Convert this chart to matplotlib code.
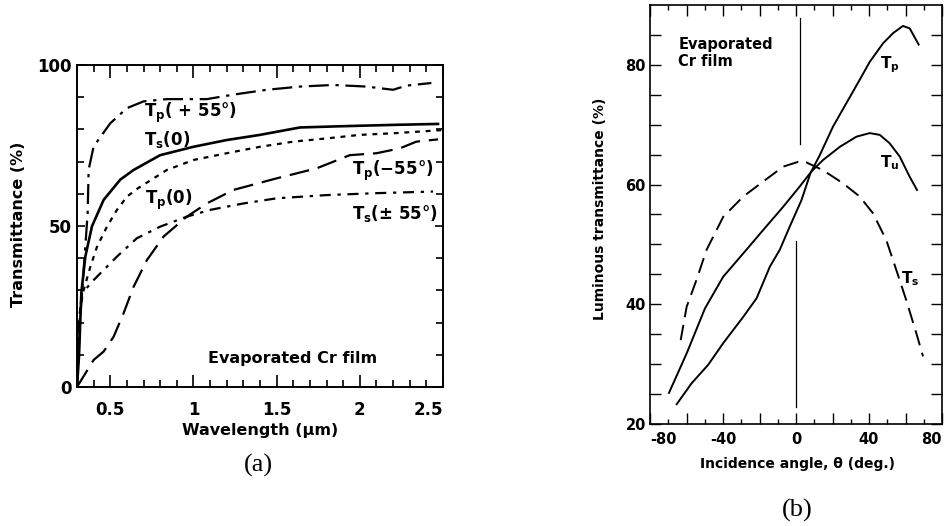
import matplotlib
matplotlib.use("Agg")
import matplotlib.pyplot as plt
from matplotlib.ticker import MultipleLocator, FixedLocator

plt.rcParams['font.family'] = ['DejaVu Sans']
plt.rcParams['font.weight'] = 'bold'
plt.rcParams['mathtext.default'] = 'bf'
plt.rcParams['axes.unicode_minus'] = False

# ---------------- panel (a) data ----------------
tp55_x = [0.30, 0.32, 0.35, 0.364, 0.37, 0.40, 0.50, 0.60, 0.70, 0.84, 1.08, 1.24, 1.44, 1.64, 1.84, 2.04, 2.20, 2.28, 2.43]
tp55_y = [0.0, 21.9, 43.6, 54.0, 67.5, 74.7, 81.9, 86.6, 88.7, 89.4, 89.4, 90.8, 92.3, 93.3, 93.8, 93.3, 92.3, 93.6, 94.4]

ts0_x = [0.30, 0.312, 0.326, 0.35, 0.39, 0.46, 0.56, 0.64, 0.80, 1.00, 1.20, 1.40, 1.64, 1.90, 2.20, 2.47]
ts0_y = [0.2, 9.5, 29.2, 40.5, 49.9, 58.1, 64.4, 67.4, 72.0, 74.6, 76.7, 78.3, 80.6, 81.0, 81.4, 81.7]

tp0_x = [0.30, 0.31, 0.32, 0.34, 0.38, 0.42, 0.48, 0.54, 0.60, 0.66, 0.84, 1.00, 1.20, 1.40, 1.60, 1.80, 2.00, 2.20, 2.50]
tp0_y = [0.0, 12.0, 24.9, 30.1, 37.3, 43.5, 49.8, 55.0, 59.1, 61.5, 67.4, 70.5, 72.6, 74.6, 76.2, 77.2, 78.3, 78.8, 79.8]

tpm55_x = [0.30, 0.40, 0.46, 0.52, 0.58, 0.64, 0.72, 0.82, 0.96, 1.08, 1.24, 1.50, 1.74, 1.94, 2.10, 2.24, 2.34, 2.47]
tpm55_y = [0.0, 8.4, 11.0, 15.6, 22.9, 31.1, 39.4, 46.7, 52.9, 57.0, 61.2, 64.8, 67.9, 72.0, 72.6, 74.1, 76.2, 76.9]

ts55_x = [0.30, 0.31, 0.33, 0.40, 0.54, 0.66, 0.80, 0.96, 1.10, 1.30, 1.50, 1.80, 2.10, 2.44]
ts55_y = [0.0, 20.0, 29.1, 33.2, 40.5, 46.2, 49.8, 52.9, 55.0, 57.0, 58.6, 59.6, 60.2, 60.7]

a_xticks = [0.5, 1.0, 1.5, 2.0, 2.5]
a_xticklabels = ['0.5', '1', '1.5', '2', '2.5']
a_yticks = [0, 50, 100]
a_yticklabels = ['0', '50', '100']

# ---------------- panel (b) data ----------------
b_tp_x = [-65.4, -57.2, -48.1, -39.9, -28.9, -21.6, -14.3, -8.9, -3.4, 3.0, 7.9, 13.0, 20.3, 27.6, 34.9, 40.4, 47.7, 53.2, 58.6, 62.3, 67.2]
b_tp_y = [23.3, 26.8, 29.9, 33.5, 37.9, 41.0, 46.3, 49.1, 53.0, 57.4, 61.9, 64.9, 69.7, 73.6, 77.5, 80.5, 83.6, 85.3, 86.5, 86.1, 83.4]

b_tu_x = [-69.6, -59.9, -49.9, -39.9, -28.9, -18.0, -7.0, 2.1, 8.5, 14.8, 24.0, 33.1, 40.4, 45.9, 51.3, 56.8, 62.3, 66.3]
b_tu_y = [25.2, 31.8, 39.3, 44.6, 48.5, 52.4, 56.3, 59.7, 62.2, 64.1, 66.3, 68.0, 68.6, 68.3, 66.9, 64.7, 61.3, 59.1]

b_ts_x = [-63.2, -59.9, -54.5, -49.0, -39.9, -28.9, -18.0, -7.0, 1.2, 5.7, 14.8, 25.8, 34.9, 42.2, 49.5, 55.0, 60.4, 65.9, 69.6]
b_ts_y = [34.0, 39.6, 44.1, 49.1, 54.6, 58.0, 60.5, 63.0, 63.8, 63.7, 62.4, 60.2, 58.0, 55.2, 50.7, 45.7, 40.7, 35.2, 31.3]

b_xticks = [-80, -60, -40, -20, 0, 20, 40, 60, 80]
b_xticklabels = ['-80', '', '-40', '', '0', '', '40', '', '80']
b_yticks = [20, 25, 30, 35, 40, 45, 50, 55, 60, 65, 70, 75, 80, 85]
b_yticklabels = ['20', '', '', '', '40', '', '', '', '60', '', '', '', '80', '']

W, H = 948, 526
fig = plt.figure(figsize=(W / 100, H / 100), dpi=100)

def fx(px):
    return px / W

def fy(py):
    return 1 - py / H

# ---------------- panel (a) ----------------
axa = fig.add_axes([fx(77), fy(387), fx(443) - fx(77), fy(65) - fy(387)])
lw = 1.6
axa.plot(tp55_x, tp55_y, color='black', lw=lw, dashes=(9, 3, 1.5, 3))
axa.plot(ts0_x, ts0_y, color='black', lw=lw + 0.3)
axa.plot(tp0_x, tp0_y, color='black', lw=lw, dashes=(2.2, 2.6))
axa.plot(tpm55_x, tpm55_y, color='black', lw=lw, dashes=(9, 4))
axa.plot(ts55_x, ts55_y, color='black', lw=lw, dashes=(5, 3, 1.5, 3))
axa.set_xlim(0.3, 2.5)
axa.set_ylim(0, 100)
axa.set_xticks(a_xticks, a_xticklabels)
axa.xaxis.set_minor_locator(MultipleLocator(0.1))
axa.set_yticks(a_yticks, a_yticklabels)
axa.yaxis.set_minor_locator(MultipleLocator(10))
axa.tick_params(which='both', direction='in', top=True, right=True, width=1.2)
axa.tick_params(axis='x', which='major', length=9, pad=10, labelsize=12)
axa.tick_params(axis='x', which='minor', length=5)
axa.tick_params(axis='y', which='major', length=6, pad=4, labelsize=12)
axa.tick_params(axis='y', which='minor', length=5)
axa.get_xticklabels()[-1].set_ha('right')
for s in axa.spines.values():
    s.set_linewidth(1.4)

fs = 12
axa.text(0.70, 85.0, 'T$_p$( + 55°)', fontsize=fs, fontweight='bold', va='center', ha='left')
axa.text(0.70, 77.0, 'T$_s$(0)', fontsize=fs, fontweight='bold', va='center', ha='left')
axa.text(0.71, 58.2, 'T$_p$(0)', fontsize=fs, fontweight='bold', va='center', ha='left')
axa.text(1.95, 67.0, 'T$_p$(−55°)', fontsize=fs, fontweight='bold', va='center', ha='left')
axa.text(1.95, 54.0, 'T$_s$(± 55°)', fontsize=fs, fontweight='bold', va='center', ha='left')
axa.text(1.085, 9.0, 'Evaporated Cr film', fontsize=11.5, fontweight='bold', va='center', ha='left')

fig.text(fx(19), fy(224), 'Transmittance (%)', rotation=90, ha='center', va='center', fontsize=11.5, fontweight='bold')
fig.text(fx(260), fy(431), 'Wavelength (μm)', ha='center', va='center', fontsize=11.5, fontweight='bold')
fig.text(fx(258), fy(465), '(a)', ha='center', va='center', fontsize=19, fontweight='normal', family='Liberation Serif')

# ---------------- panel (b) ----------------
axb = fig.add_axes([fx(650), fy(424), fx(942) - fx(650), fy(5) - fy(424)])
axb.plot(b_tp_x, b_tp_y, color='black', lw=1.4)
axb.plot(b_tu_x, b_tu_y, color='black', lw=1.4)
axb.plot(b_ts_x, b_ts_y, color='black', lw=1.4, dashes=(8, 4))
axb.plot([0, 0], [22.8, 50.6], color='black', lw=0.9)
axb.plot([2, 2], [66.8, 87.8], color='black', lw=0.9)
axb.set_xlim(-80, 80)
axb.set_ylim(20, 90)
axb.set_xticks(b_xticks, b_xticklabels)
axb.xaxis.set_minor_locator(MultipleLocator(10))
axb.set_yticks(b_yticks, b_yticklabels)
axb.tick_params(which='both', direction='in', top=True, right=True, width=1.0)
axb.tick_params(axis='x', which='major', length=8, pad=6, labelsize=10.5)
axb.tick_params(axis='x', which='minor', length=3.5)
axb.tick_params(axis='y', which='major', length=8, pad=3, labelsize=10.5)
xl = axb.get_xticklabels()
xl[0].set_ha('left')
xl[-1].set_ha('right')
for s in axb.spines.values():
    s.set_linewidth(1.2)

axb.text(46, 80, 'T$_p$', fontsize=11, fontweight='bold', va='center', ha='left')
axb.text(46, 63.6, 'T$_u$', fontsize=11, fontweight='bold', va='center', ha='left')
axb.text(57.7, 44.3, 'T$_s$', fontsize=11, fontweight='bold', va='center', ha='left')
axb.text(-64.5, 82.0, 'Evaporated\nCr film', fontsize=10.5, fontweight='bold', va='center', ha='left', linespacing=1.15)

fig.text(fx(600), fy(209), 'Luminous transmittance (%)', rotation=90, ha='center', va='center', fontsize=10, fontweight='bold')
fig.text(fx(797), fy(464), 'Incidence angle, θ (deg.)', ha='center', va='center', fontsize=10, fontweight='bold')
fig.text(fx(797), fy(510), '(b)', ha='center', va='center', fontsize=19, fontweight='normal', family='Liberation Serif')

fig.savefig('out.png', dpi=100)
